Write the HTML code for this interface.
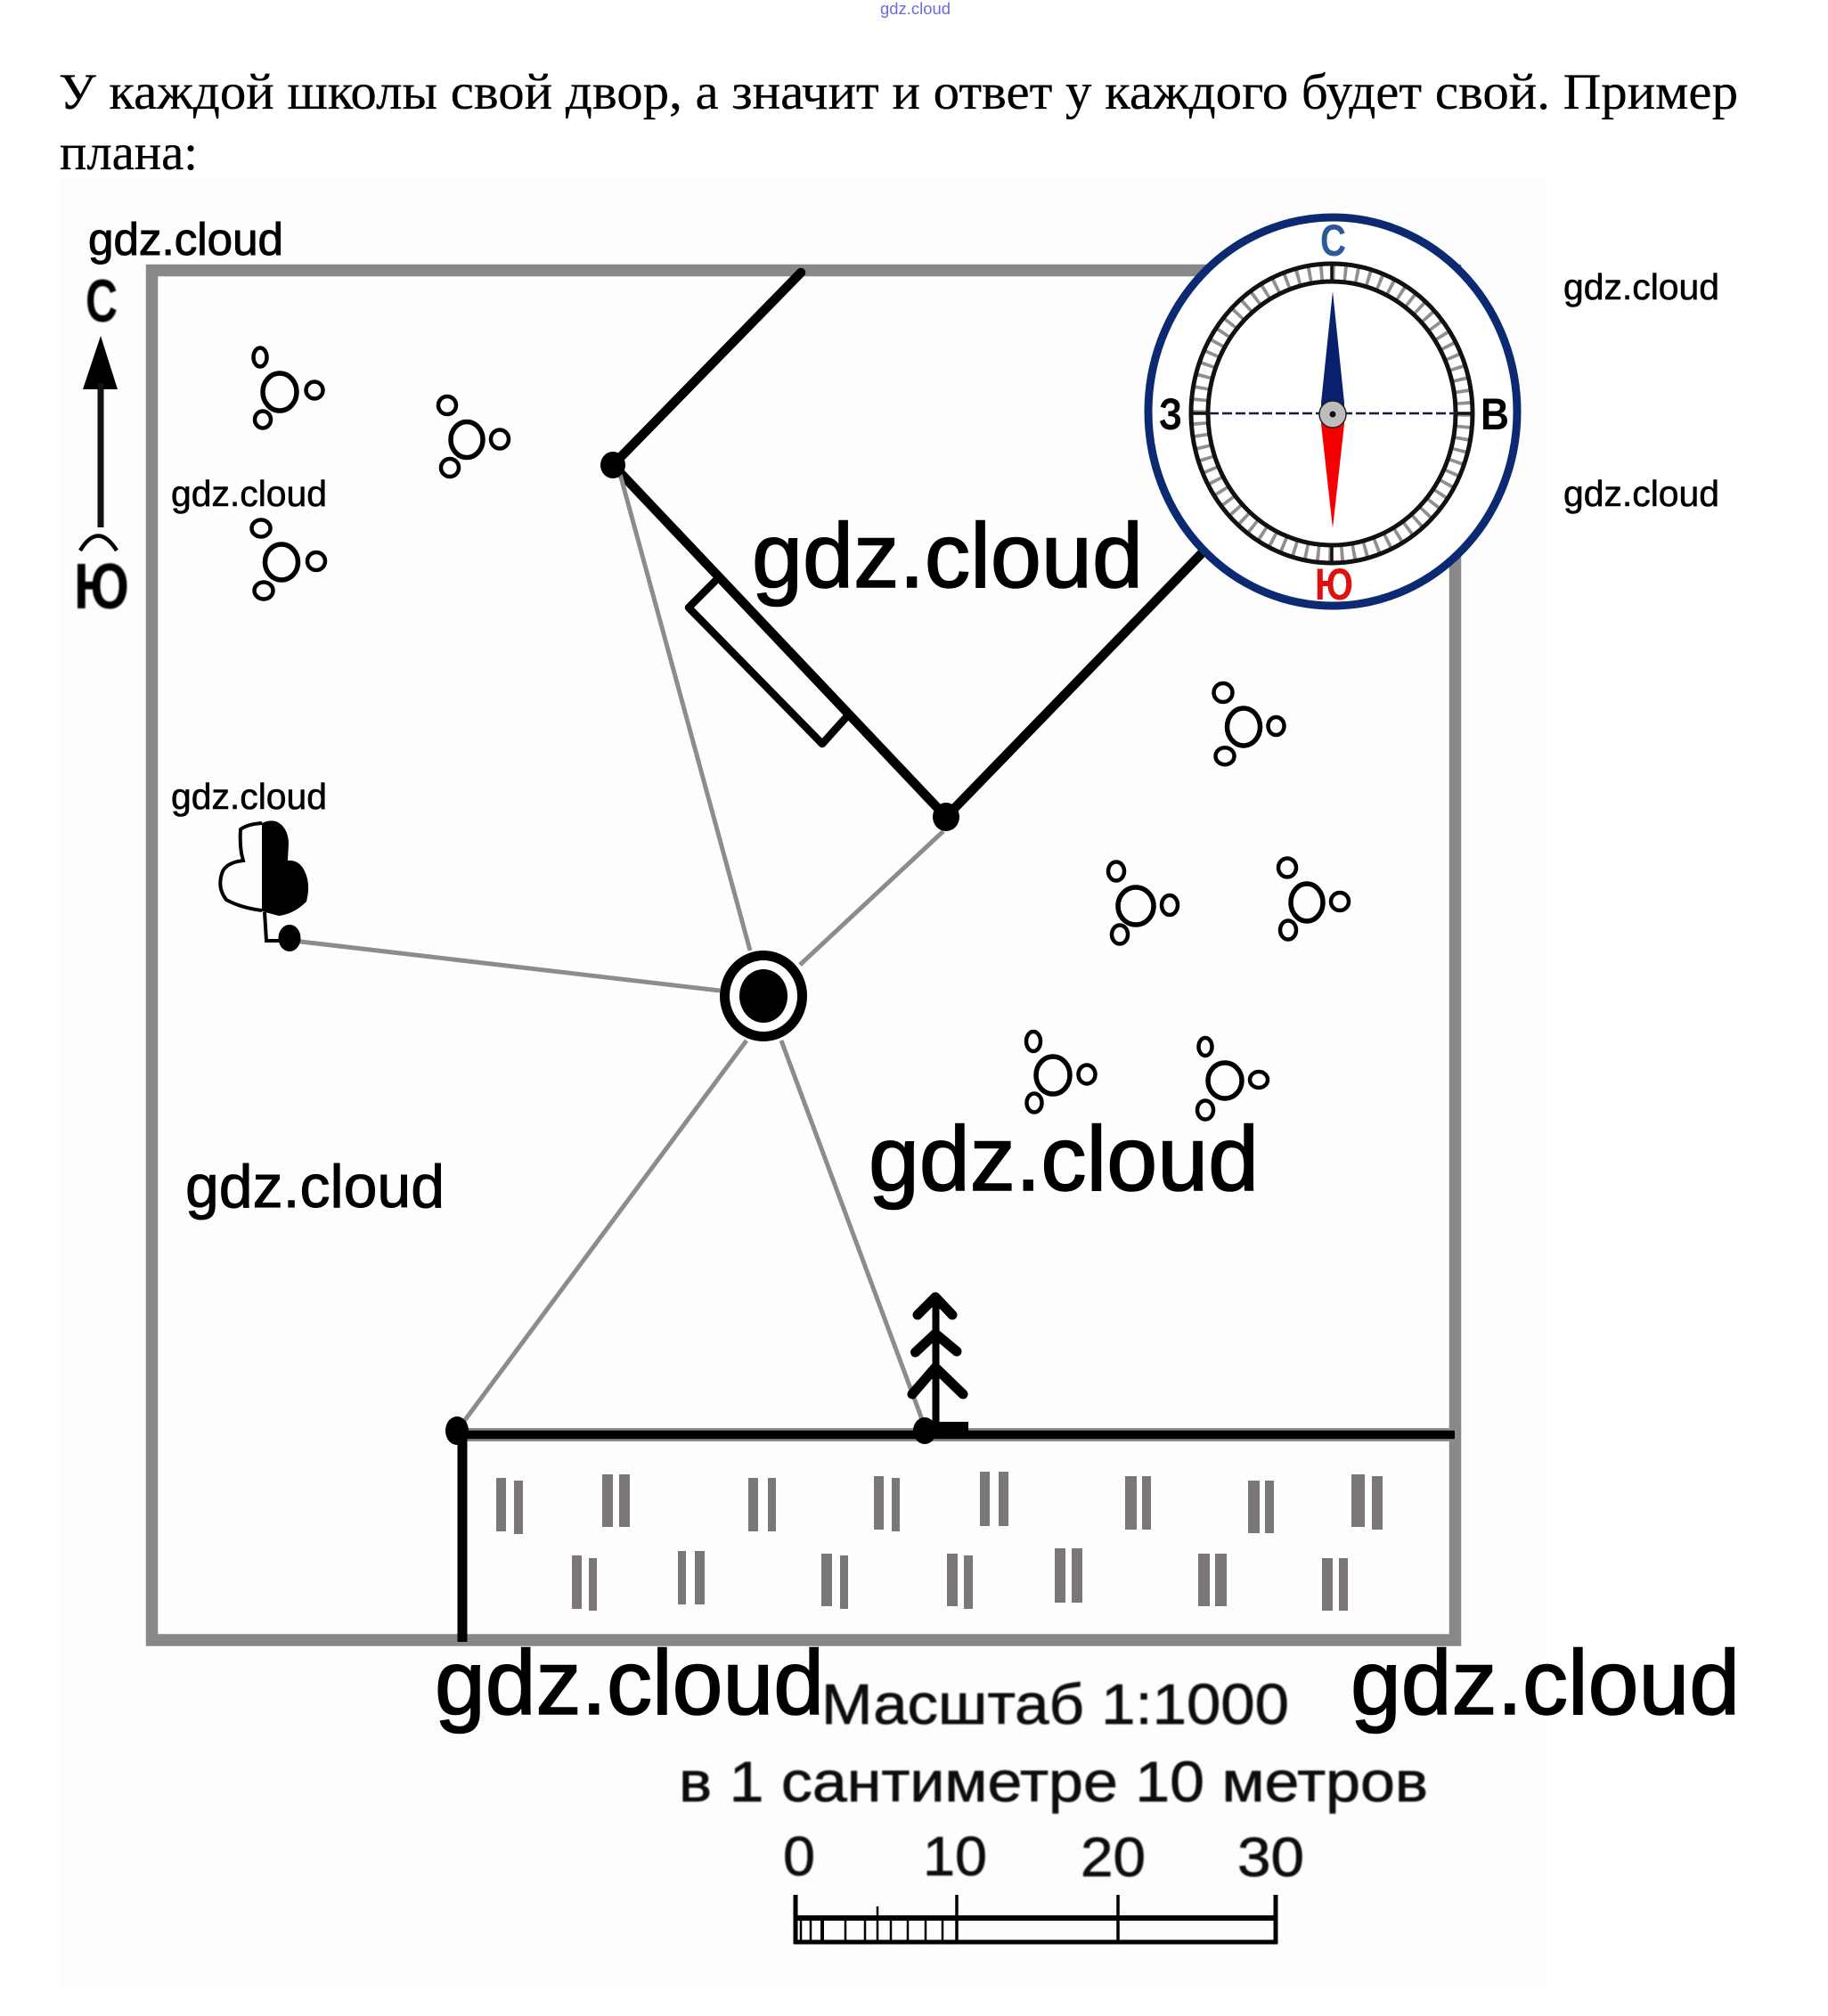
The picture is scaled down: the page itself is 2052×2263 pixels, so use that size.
<!DOCTYPE html>
<html lang="ru">
<head>
<meta charset="utf-8">
<title>План двора школы</title>
<style>
html,body{margin:0;padding:0;background:#fff}
svg{display:block}
.w{font-family:"Liberation Sans",sans-serif;fill:#000;stroke:#000;stroke-width:.6}
.m{stroke-width:1}
.l{stroke-width:1.6}
.s{font-family:"Liberation Sans",sans-serif;fill:#111;stroke:#111;stroke-width:.7}
</style>
</head>
<body>
<svg xmlns="http://www.w3.org/2000/svg" width="2052" height="2263" viewBox="0 0 2052 2263">
<defs>
<filter id="b" x="-5%" y="-20%" width="110%" height="140%"><feGaussianBlur stdDeviation="0.9"/></filter>
</defs>
<rect width="2052" height="2263" fill="#fff"/>
<rect x="68" y="200" width="1666" height="2031" fill="#fdfdfd"/>

<text x="988" y="16" font-family="'Liberation Sans',sans-serif" fill="#6a6ae0" font-size="18" textLength="79" lengthAdjust="spacingAndGlyphs">gdz.cloud</text>
<text x="66" y="122" font-family="'Liberation Serif',serif" font-size="57" fill="#000" stroke="#000" stroke-width=".3" textLength="1885" lengthAdjust="spacingAndGlyphs">У каждой школы свой двор, а значит и ответ у каждого будет свой. Пример</text>
<text x="67" y="190" font-family="'Liberation Serif',serif" font-size="57" fill="#000" stroke="#000" stroke-width=".3" textLength="155" lengthAdjust="spacingAndGlyphs">плана:</text>

<!-- frame -->
<rect x="170.5" y="303.5" width="1463" height="1537.5" fill="#fefefe" stroke="#888" stroke-width="13.5"/>

<!-- north arrow -->
<g filter="url(#b)">
<text x="96" y="361" font-family="'Liberation Sans',sans-serif" font-weight="bold" font-size="68" textLength="36" lengthAdjust="spacingAndGlyphs">С</text>
<text x="83" y="683" font-family="'Liberation Sans',sans-serif" font-weight="bold" font-size="72" textLength="62" lengthAdjust="spacingAndGlyphs">Ю</text>
</g>
<polygon points="113,377 132,437 93,437" fill="#000"/>
<line x1="113" y1="430" x2="113" y2="592" stroke="#111" stroke-width="7"/>
<path d="M90,618 Q110,585 131,618" fill="none" stroke="#000" stroke-width="4.5"/>

<!-- house -->
<g fill="none" stroke="#000" stroke-linecap="round" stroke-linejoin="round">
<line x1="899" y1="306" x2="688" y2="522" stroke-width="10.5"/>
<line x1="688" y1="522" x2="1062" y2="917" stroke-width="10.5"/>
<line x1="1062" y1="917" x2="1350" y2="620" stroke-width="10.5"/>
<polyline points="803,652 773,682 923,835 950,805" stroke-width="8.5"/>
</g>

<!-- grey connectors -->
<g stroke="#8c8c8c" stroke-width="5" fill="none">
<line x1="696" y1="532" x2="842" y2="1067"/>
<line x1="1059" y1="933" x2="898" y2="1083"/>
<line x1="329" y1="1056" x2="808" y2="1112"/>
<line x1="838" y1="1168" x2="513" y2="1606"/>
<line x1="877" y1="1168" x2="1036" y2="1596"/>
</g>

<!-- nodes -->
<g fill="#000">
<ellipse cx="688" cy="522" rx="14" ry="15"/>
<ellipse cx="1062" cy="917" rx="15" ry="16"/>
<ellipse cx="325" cy="1053" rx="12.5" ry="15"/>
<ellipse cx="857" cy="1118" rx="27" ry="30"/>
</g>
<ellipse cx="857" cy="1118" rx="43.5" ry="45.5" fill="none" stroke="#000" stroke-width="11"/>

<!-- heart bush -->
<path d="M294,924 Q278,925 270,931 Q269,945 271,958 L273,966 Q255,968 250,978 Q243,996 254,1010 Q270,1019 294,1022" fill="none" stroke="#000" stroke-width="4"/>
<path d="M294,924 Q302,920 310,922 Q323,928 324,946 L323,966 Q336,965 342,978 Q349,992 344,1012 Q330,1026 313,1028 L294,1023 Z" fill="#000"/>
<polyline points="297,1024 299,1056 317,1056" fill="none" stroke="#000" stroke-width="4"/>

<!-- trees -->
<g fill="none" stroke="#000" stroke-width="4.5">
<ellipse cx="292" cy="401" rx="7.5" ry="10.5"/>
<ellipse cx="314" cy="440" rx="19" ry="21" stroke-width="5.5"/>
<ellipse cx="353" cy="438" rx="9.5" ry="9.5"/>
<ellipse cx="295" cy="471" rx="9" ry="9.5"/>

<ellipse cx="293" cy="593" rx="10.5" ry="9.5"/>
<ellipse cx="316" cy="631" rx="18.5" ry="20" stroke-width="5.5"/>
<ellipse cx="355" cy="630" rx="10" ry="10"/>
<ellipse cx="296" cy="663" rx="10.5" ry="9.5"/>

<ellipse cx="502" cy="455" rx="10" ry="10"/>
<ellipse cx="524" cy="493.5" rx="18" ry="20" stroke-width="5.5"/>
<ellipse cx="561" cy="493" rx="10" ry="10.5"/>
<ellipse cx="505" cy="525" rx="10" ry="10"/>

<ellipse cx="1373" cy="777.5" rx="10.5" ry="10.5"/>
<ellipse cx="1396" cy="816" rx="18.5" ry="21" stroke-width="5.5"/>
<ellipse cx="1432.5" cy="815" rx="9" ry="10"/>
<ellipse cx="1375" cy="848.7" rx="10.5" ry="9.5"/>

<ellipse cx="1253" cy="978" rx="9" ry="10.5"/>
<ellipse cx="1275" cy="1017" rx="20" ry="21" stroke-width="5.5"/>
<ellipse cx="1313" cy="1016" rx="9" ry="11"/>
<ellipse cx="1257" cy="1049" rx="9" ry="10.5"/>

<ellipse cx="1445" cy="974" rx="10" ry="10.5"/>
<ellipse cx="1467" cy="1013" rx="18" ry="21" stroke-width="5.5"/>
<ellipse cx="1504" cy="1012" rx="10" ry="10"/>
<ellipse cx="1446" cy="1044" rx="9" ry="10.5"/>

<ellipse cx="1160" cy="1169" rx="8" ry="11"/>
<ellipse cx="1182" cy="1207" rx="19" ry="21" stroke-width="5.5"/>
<ellipse cx="1220" cy="1206" rx="9.5" ry="10.5"/>
<ellipse cx="1161" cy="1238" rx="8.5" ry="10.5"/>

<ellipse cx="1353" cy="1175" rx="7.5" ry="10"/>
<ellipse cx="1375" cy="1213" rx="19" ry="20" stroke-width="5.5"/>
<ellipse cx="1413" cy="1212" rx="10" ry="9"/>
<ellipse cx="1353" cy="1246" rx="9" ry="10.5"/>
</g>

<!-- field -->
<line x1="513" y1="1610.5" x2="1636" y2="1610.5" stroke="#8c8c8c" stroke-width="15"/>
<line x1="513" y1="1610.5" x2="1633" y2="1610.5" stroke="#000" stroke-width="9.5"/>
<line x1="519" y1="1606" x2="519" y2="1843" stroke="#000" stroke-width="11"/>
<ellipse cx="513" cy="1606" rx="13" ry="16" fill="#000"/>
<ellipse cx="1038" cy="1606" rx="13" ry="15" fill="#000"/>

<!-- fir -->
<g fill="none" stroke="#000" stroke-width="8" stroke-linejoin="round" stroke-linecap="round">
<line x1="1050.5" y1="1455" x2="1050.5" y2="1606"/>
<polyline points="1030,1476 1050,1456 1069,1476" stroke-width="11"/>
<polyline points="1027.5,1518 1050,1497 1074,1517" stroke-width="11"/>
<polyline points="1024,1565 1050,1535 1081,1565" stroke-width="11"/>
</g>
<rect x="1050" y="1596" width="37" height="12" fill="#000"/>

<!-- grass -->
<g fill="#7b7777">
<rect x="557" y="1659" width="11" height="60"/><rect x="577" y="1662" width="10" height="60"/>
<rect x="676" y="1655" width="12" height="59"/><rect x="695" y="1655" width="12" height="59"/>
<rect x="840" y="1659" width="11" height="60"/><rect x="862" y="1659" width="9" height="60"/>
<rect x="981" y="1657" width="11" height="60"/><rect x="1001" y="1659" width="9" height="60"/>
<rect x="1100" y="1652" width="11" height="61"/><rect x="1121" y="1652" width="11" height="61"/>
<rect x="1263" y="1657" width="13" height="60"/><rect x="1282" y="1657" width="10" height="60"/>
<rect x="1401" y="1662" width="13" height="59"/><rect x="1420" y="1662" width="10" height="59"/>
<rect x="1517" y="1655" width="15" height="59"/><rect x="1540" y="1657" width="12" height="60"/>
<rect x="642" y="1746" width="11" height="60"/><rect x="661" y="1749" width="9" height="59"/>
<rect x="761" y="1741" width="9" height="60"/><rect x="780" y="1741" width="11" height="60"/>
<rect x="922" y="1744" width="12" height="59"/><rect x="943" y="1746" width="9" height="60"/>
<rect x="1063" y="1744" width="12" height="59"/><rect x="1082" y="1746" width="10" height="60"/>
<rect x="1184" y="1738" width="12" height="61"/><rect x="1203" y="1738" width="12" height="61"/>
<rect x="1345" y="1744" width="13" height="59"/><rect x="1364" y="1744" width="13" height="59"/>
<rect x="1484" y="1749" width="12" height="59"/><rect x="1503" y="1749" width="10" height="59"/>
</g>

<!-- compass -->
<ellipse cx="1496" cy="462" rx="207" ry="218" fill="#fff" stroke="#0c2a72" stroke-width="9"/>
<ellipse cx="1495" cy="464" rx="148.5" ry="158" fill="none" stroke="#8f8f8f" stroke-width="20" pathLength="360" stroke-dasharray="1.4 3.6"/>
<ellipse cx="1495" cy="464" rx="158" ry="168" fill="none" stroke="#111" stroke-width="5"/>
<ellipse cx="1495" cy="464" rx="139" ry="148" fill="none" stroke="#111" stroke-width="5"/>
<g stroke="#111" stroke-width="3.5">
<line x1="1495" y1="296" x2="1495" y2="316"/>
<line x1="1495" y1="612" x2="1495" y2="632"/>
<line x1="1337" y1="464" x2="1357" y2="464"/>
<line x1="1633" y1="464" x2="1653" y2="464"/>
</g>
<line x1="1357" y1="464" x2="1635" y2="464" stroke="#0c2040" stroke-width="2.5" stroke-dasharray="11 4"/>
<polygon points="1496,327 1509,452 1509,468 1483,468 1483,452" fill="#08216e"/>
<polygon points="1496,593 1509,476 1509,468 1483,468 1483,476" fill="#f40000"/>
<circle cx="1496" cy="465" r="15" fill="#bdbdbd" stroke="#222" stroke-width="1.5"/>
<circle cx="1496" cy="465" r="3.5" fill="#111"/>
<g font-family="'Liberation Sans',sans-serif" font-weight="bold" font-size="50">
<text x="1482" y="287" fill="#2c5a98" textLength="29" lengthAdjust="spacingAndGlyphs">С</text>
<text x="1476" y="673" fill="#e01010" textLength="43" lengthAdjust="spacingAndGlyphs">Ю</text>
<text x="1301" y="482" fill="#000" textLength="26" lengthAdjust="spacingAndGlyphs">З</text>
<text x="1662" y="482" fill="#000" textLength="32" lengthAdjust="spacingAndGlyphs">В</text>
</g>

<!-- scale -->
<g filter="url(#b)">
<text x="922" y="1935" class="s" font-size="64" textLength="525" lengthAdjust="spacingAndGlyphs">Масштаб 1:1000</text>
<text x="762" y="2022" class="s" font-size="64" textLength="841" lengthAdjust="spacingAndGlyphs">в 1 сантиметре 10 метров</text>
<text x="879" y="2105" class="s" font-size="62" textLength="36" lengthAdjust="spacingAndGlyphs">0</text>
<text x="1036" y="2105" class="s" font-size="62" textLength="72" lengthAdjust="spacingAndGlyphs">10</text>
<text x="1213" y="2106" class="s" font-size="62" textLength="73" lengthAdjust="spacingAndGlyphs">20</text>
<text x="1389" y="2106" class="s" font-size="62" textLength="75" lengthAdjust="spacingAndGlyphs">30</text>
</g>
<g stroke="#000" fill="none">
<line x1="893" y1="2127" x2="893" y2="2182" stroke-width="5"/>
<line x1="1432" y1="2127" x2="1432" y2="2182" stroke-width="5"/>
<line x1="1074" y1="2127" x2="1074" y2="2180" stroke-width="3.5"/>
<line x1="1255" y1="2127" x2="1255" y2="2180" stroke-width="3.5"/>
<line x1="891" y1="2153" x2="1434" y2="2153" stroke-width="6"/>
<line x1="891" y1="2180" x2="1434" y2="2180" stroke-width="5"/>
<line x1="985" y1="2140" x2="985" y2="2180" stroke-width="2.5"/>
<g stroke-width="2.5">
<line x1="899" y1="2153" x2="899" y2="2180"/>
<line x1="910" y1="2153" x2="910" y2="2180"/>
<line x1="923" y1="2153" x2="923" y2="2180" stroke-width="4"/>
<line x1="949" y1="2153" x2="949" y2="2180"/>
<line x1="971" y1="2153" x2="971" y2="2180"/>
<line x1="1000" y1="2153" x2="1000" y2="2180"/>
<line x1="1019" y1="2153" x2="1019" y2="2180"/>
<line x1="1039" y1="2153" x2="1039" y2="2180"/>
<line x1="1058" y1="2153" x2="1058" y2="2180"/>
</g>
</g>

<!-- watermarks -->
<text x="99" y="286" class="w m" font-size="51" textLength="219" lengthAdjust="spacingAndGlyphs">gdz.cloud</text>
<text x="1755" y="336" class="w" font-size="41" textLength="175" lengthAdjust="spacingAndGlyphs">gdz.cloud</text>
<text x="1755" y="568" class="w" font-size="41" textLength="175" lengthAdjust="spacingAndGlyphs">gdz.cloud</text>
<text x="192" y="568" class="w" font-size="41" textLength="175" lengthAdjust="spacingAndGlyphs">gdz.cloud</text>
<text x="192" y="908" class="w" font-size="41" textLength="175" lengthAdjust="spacingAndGlyphs">gdz.cloud</text>
<text x="844" y="659" class="w l" font-size="103" textLength="439" lengthAdjust="spacingAndGlyphs">gdz.cloud</text>
<text x="975" y="1336" class="w l" font-size="103" textLength="438" lengthAdjust="spacingAndGlyphs">gdz.cloud</text>
<text x="208" y="1355" class="w m" font-size="68" textLength="291" lengthAdjust="spacingAndGlyphs">gdz.cloud</text>
<text x="488" y="1924" class="w l" font-size="103" textLength="437" lengthAdjust="spacingAndGlyphs">gdz.cloud</text>
<text x="1516" y="1924" class="w l" font-size="103" textLength="437" lengthAdjust="spacingAndGlyphs">gdz.cloud</text>
</svg>
</body>
</html>
